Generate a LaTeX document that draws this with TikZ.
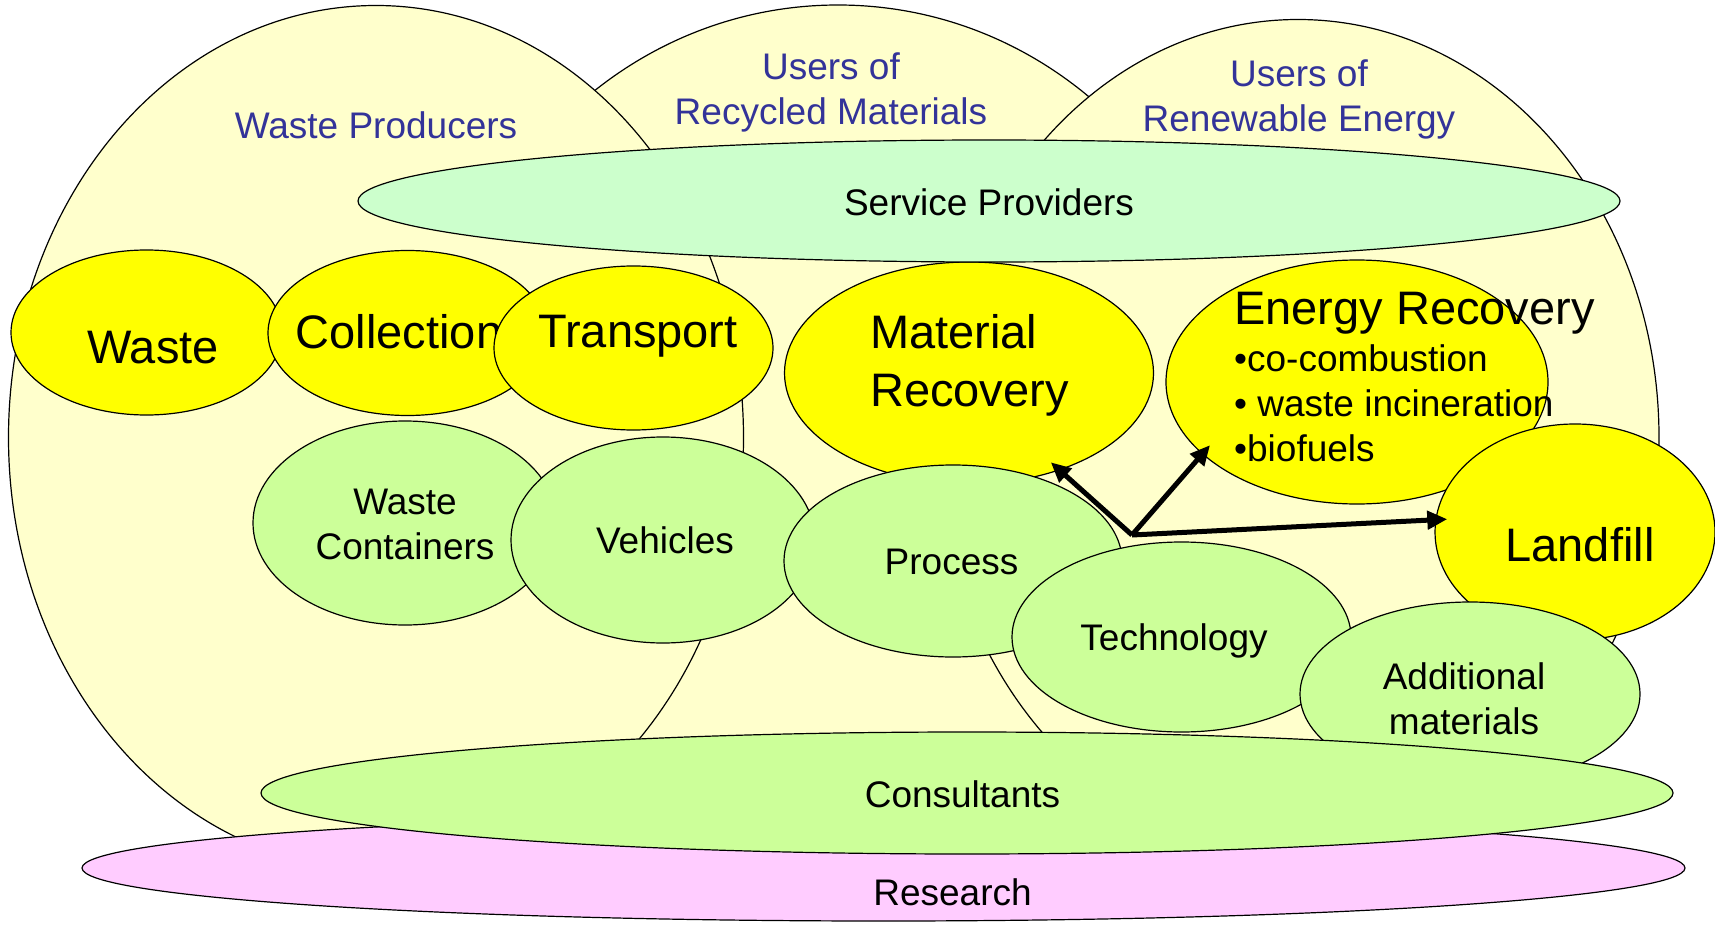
\documentclass[tikz,border=0pt]{standalone}
\usepackage{fontspec}
\setmainfont{Liberation Sans}
\usepackage{tikz}
\usetikzlibrary{shapes.geometric, arrows.meta}
\definecolor{hellgelb}{HTML}{FFFFCC}
\definecolor{gelb}{HTML}{FFFF00}
\definecolor{gruen}{HTML}{CCFF99}
\definecolor{mint}{HTML}{CCFFCC}
\definecolor{rosa}{HTML}{FFCCFF}
\definecolor{titelblau}{HTML}{333399}
\tikzset{blase/.style={ellipse,draw,line width=1.2pt,inner sep=0},
	gruppe/.style={blase,fill=hellgelb},
	gelbe/.style={blase,fill=gelb},
	gruene/.style={blase,fill=gruen},
	gross/.style={font=\fontsize{47}{58}\selectfont, inner sep=0},
	klein/.style={font=\fontsize{37}{45}\selectfont, inner sep=0, align=center},
	titel/.style={klein, text=titelblau},
	pfeil/.style={line width=5pt, -{Triangle[length=20pt,width=18pt]}, shorten >=-12pt} }

\begin{document}
\begin{tikzpicture}[x=1pt, y=-1pt]
  \useasboundingbox (0,0) rectangle (1715,925);

  % Gruppen
  \node (rm) [gruppe, minimum width=800pt, minimum height=830pt] at (838,420) {};
  \node (rmt) [titel] at (831,92) {Users of\\Recycled Materials};
  \node (re) [gruppe, minimum width=722pt, minimum height=836pt] at (1298,437.5) {};
  \node (ret) [titel] at (1299,99) {Users of\\Renewable Energy};
  \node (wp) [gruppe, minimum width=735pt, minimum height=864pt] at (376,437.5) {};
  \node (wpt) [titel] at (376,125) {Waste Producers};

  \node (res) [blase, fill=rosa, minimum width=1603pt, minimum height=106pt] at (883.5,868) {};
  \node (rest) [klein] at (952.5,892) {Research};

  % Kette
  \node (w) [gelbe, minimum width=271pt, minimum height=165pt] at (146.5,332.5) {};
  \node (wt) [gross] at (153,348) {Waste};
  \node (col) [gelbe, minimum width=279pt, minimum height=165pt] at (407.5,333) {};
  \node (colt) [gross] at (399,332) {Collection};
  \node (tr) [gelbe, minimum width=279pt, minimum height=164pt] at (633.5,348) {};
  \node (trt) [gross] at (638,336) {Transport};
  \node (mr) [gelbe, minimum width=369pt, minimum height=222pt] at (969,373) {};
  \node (mrt) [gross, align=left, anchor=west] at (870,365) {Material\\Recovery};
  \node (er) [gelbe, minimum width=382pt, minimum height=244pt] at (1357,382) {};
  \node (ert) [klein, align=left, anchor=west] at (1234,377)
    {{\fontsize{47}{58}\selectfont Energy Recovery}\\[2pt] •co-combustion\\ • waste incineration\\ •biofuels};

  \node (sp) [blase, fill=mint, minimum width=1262pt, minimum height=122pt] at (989,201) {};
  \node (spt) [klein] at (989,202) {Service Providers};

  % Mittel
  \node (wc) [gruene, minimum width=304pt, minimum height=204pt] at (405,523) {};
  \node (wct) [klein] at (405,524) {Waste\\Containers};
  \node (veh) [gruene, minimum width=304pt, minimum height=206pt] at (663,540) {};
  \node (veht) [klein] at (665,540) {Vehicles};
  \node (pr) [gruene, minimum width=338pt, minimum height=192pt] at (953,561) {};
  \node (prt) [klein] at (951.5,562) {Process};
  \node (tec) [gruene, minimum width=339pt, minimum height=190pt] at (1181.5,637) {};
  \node (tect) [klein] at (1174,641) {Technology};
  \node (lf) [gelbe, minimum width=280pt, minimum height=216pt] at (1575,532) {};
  \node (lft) [gross] at (1580,545) {Landfill};
  \node (am) [gruene, minimum width=340pt, minimum height=184pt] at (1470,694) {};
  \node (amt) [klein] at (1464,698.5) {Additional\\materials};

  \node (con) [gruene, minimum width=1412pt, minimum height=122pt] at (967,793) {};
  \node (cont) [klein] at (962.5,794) {Consultants};

  \coordinate (hub) at (1132,535);
  \draw [pfeil] (hub) -- (mr.-47);
  \draw [pfeil] (hub) -- (er.-155);
  \draw [pfeil] (hub) -- (lf.175);
\end{tikzpicture}
\end{document}
